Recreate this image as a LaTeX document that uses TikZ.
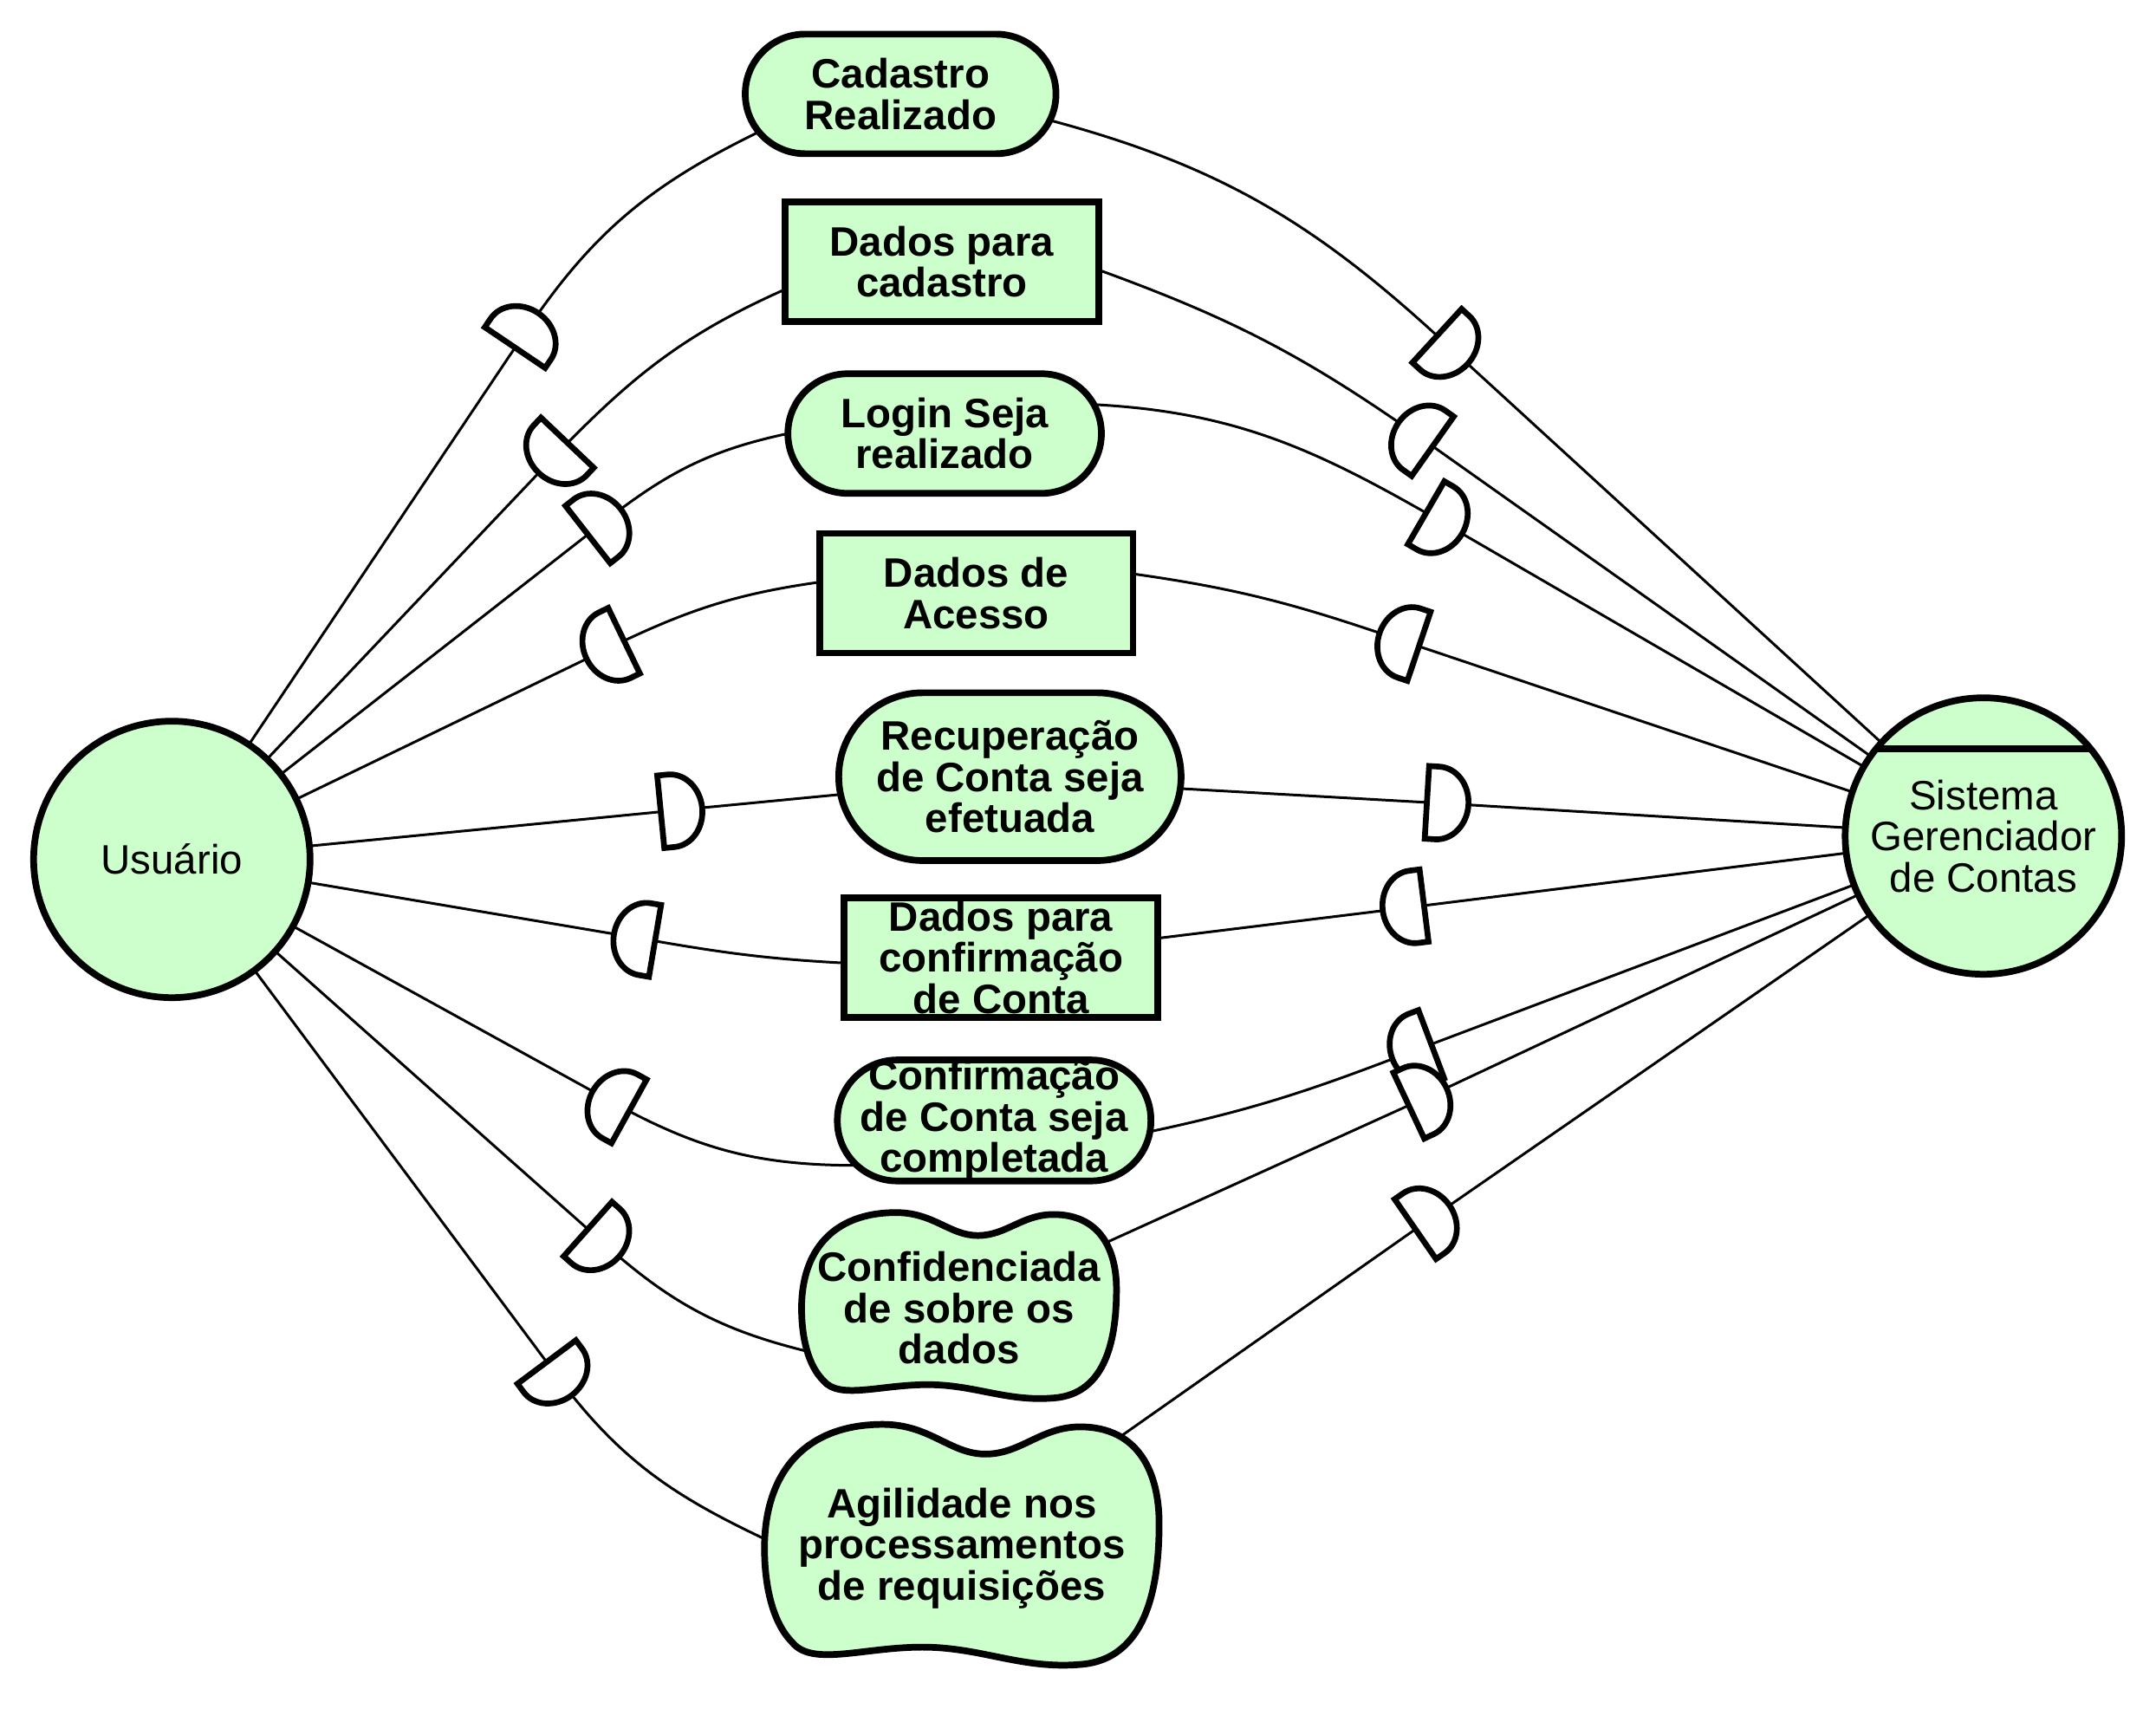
\documentclass[tikz,border=0pt]{standalone}
\usepackage{fontspec}
\setmainfont{Liberation Sans}
\usetikzlibrary{shapes.misc}
\pgfdeclarelayer{edges}
\pgfsetlayers{edges,main}
\definecolor{istarfill}{HTML}{CCFFCC}
\newcommand{\labelfont}{\fontsize{13.5}{13.5}\selectfont}
\tikzset{
  actor/.style={circle, draw=black, fill=istarfill, line width=2.2pt, minimum size=3.19cm, inner sep=0pt, outer sep=0pt, font=\labelfont, align=center},
  goal/.style={rounded rectangle, draw=black, fill=istarfill, line width=2.2pt, inner sep=0pt, outer sep=0pt, font=\labelfont\bfseries, align=center},
  goalrect/.style={rectangle, rounded corners=0.69cm, draw=black, fill=istarfill, line width=2.2pt, inner sep=0pt, outer sep=0pt, font=\labelfont\bfseries, align=center},
  resource/.style={rectangle, draw=black, fill=istarfill, line width=2.2pt, inner sep=0pt, outer sep=0pt, font=\labelfont\bfseries, align=center},
  sgshape/.style={draw=black, fill=istarfill, line width=2.2pt},
  sgtext/.style={inner sep=0pt, outer sep=0pt, font=\labelfont\bfseries, align=center},
  link/.style={line width=0.85pt, draw=black},
  dmark/.style={draw=black, fill=white, line width=1.9pt},
  dfwd/.pic={\draw[dmark] (-0.24,-0.42) -- (-0.24,0.42) -- (-0.12,0.42) arc[start angle=90, end angle=-90, x radius=0.36, y radius=0.42] -- cycle;},
  dback/.pic={\draw[dmark] (0.24,-0.42) -- (0.24,0.42) -- (0.12,0.42) arc[start angle=90, end angle=270, x radius=0.36, y radius=0.42] -- cycle;},
}
% softgoal: name, position, width, height, text
\newcommand{\softgoal}[5]{%
  \draw[sgshape, shift={#2}, xscale=#3, yscale=#4] (-0.5,0)
    .. controls (-0.5,0.3) and (-0.4,0.5) .. (-0.2,0.5)
    .. controls (-0.08,0.5) and (-0.03,0.38) .. (0.06,0.38)
    .. controls (0.15,0.38) and (0.2,0.49) .. (0.3,0.49)
    .. controls (0.45,0.49) and (0.5,0.3) .. (0.5,0.1)
    .. controls (0.5,-0.15) and (0.47,-0.45) .. (0.3,-0.47)
    .. controls (0.15,-0.49) and (0.05,-0.4) .. (-0.1,-0.4)
    .. controls (-0.25,-0.4) and (-0.38,-0.48) .. (-0.43,-0.38)
    .. controls (-0.48,-0.3) and (-0.5,-0.15) .. (-0.5,0) -- cycle;
  \node[sgtext, minimum width=#3cm, minimum height=#4cm] (#1) at #2 {#5};}

\begin{document}
\begin{tikzpicture}
\useasboundingbox (0,0) rectangle (24.88,19.72);
% actors
\node[actor] (usr) at (1.983,9.803) {Usuário};
\node[actor] (sgc) at (22.888,10.073) {Sistema\\Gerenciador\\de Contas};
\draw[line width=2.2pt] (sgc.141) -- (sgc.39);
% dependums
\node[goal, minimum width=3.586cm, minimum height=1.380cm] (cad) at (10.393,18.636) {Cadastro\\Realizado};
\node[resource, minimum width=3.618cm, minimum height=1.380cm] (dpc) at (10.869,16.700) {Dados para\\cadastro};
\node[goal, minimum width=3.618cm, minimum height=1.380cm] (login) at (10.901,14.717) {Login Seja\\realizado};
\node[resource, minimum width=3.618cm, minimum height=1.380cm] (dac) at (11.266,12.876) {Dados de\\Acesso};
\node[goal, minimum width=3.951cm, minimum height=1.936cm] (recup) at (11.654,10.758) {Recuperação\\de Conta seja\\efetuada};
\node[resource, minimum width=3.618cm, minimum height=1.380cm] (dconf) at (11.551,8.671) {Dados para\\confirmação\\de Conta};
\node[goalrect, minimum width=3.618cm, minimum height=1.396cm] (conf) at (11.472,6.791) {Confirmação\\de Conta seja\\completada};
\softgoal{sigilo}{(11.067,4.625)}{3.634}{2.206}{Confidenciada\\de sobre os\\dados}
\softgoal{agil}{(11.099,1.856)}{4.554}{2.856}{Agilidade nos\\processamentos\\de requisições}
% dependency marks
\coordinate (dl1) at (6.077,15.908);
\coordinate (dl2) at (6.382,14.437);
\coordinate (dl3) at (6.973,13.700);
\coordinate (dl4) at (6.985,12.222);
\coordinate (dl5) at (7.864,10.376);
\coordinate (dl6) at (7.322,8.903);
\coordinate (dl7) at (7.049,7.012);
\coordinate (dl8) at (6.963,5.378);
\coordinate (dl9) at (6.452,3.811);
\coordinate (dr1) at (16.760,15.683);
\coordinate (dr2) at (16.337,14.709);
\coordinate (dr3) at (16.665,13.682);
\coordinate (dr4) at (16.147,12.338);
\coordinate (dr5) at (16.706,10.447);
\coordinate (dr6) at (16.195,9.241);
\coordinate (dr7) at (16.292,7.586);
\coordinate (dr8) at (16.475,7.064);
\coordinate (dr9) at (16.530,5.674);
\begin{pgfonlayer}{edges}
\draw[link] (usr) -- (dl1) to[out=56, in=206] (cad.195);
\draw[link] (usr) -- (dl2) to[out=46, in=204] (dpc.190);
\draw[link] (usr) -- (dl3) to[out=38, in=192] (login.west);
\draw[link] (usr) -- (dl4) to[out=26, in=188] (dac.176);
\draw[link] (usr) -- (dl5) -- (recup.186);
\draw[link] (usr) -- (dl6) to[out=-10, in=177] (dconf.182);
\draw[link] (usr) -- (dl7) to[out=-29, in=180] ([xshift=0.24cm]conf.196);
\draw[link] (usr) -- (dl8) to[out=-42, in=167] ([shift={(0.2,-0.53)}]sigilo.west);
\draw[link] (usr) -- (dl9) to[out=-53, in=155] ([shift={(0.1,0.06)}]agil.west);
\draw[link] (cad.350) to[out=-15, in=137] (dr1) -- (sgc);
\draw[link] (dpc.357) to[out=-20, in=145] (dr2) -- (sgc);
\draw[link] (login.11) to[out=-3, in=150] (dr3) -- (sgc);
\draw[link] (dac.7) to[out=-8, in=161] (dr4) -- (sgc);
\draw[link] (recup.356) -- (dr5) -- (sgc);
\draw[link] (dconf.7) -- (dr6) -- (sgc);
\draw[link] (conf.356) to[out=12, in=201] (dr7) -- (sgc);
\draw[link] ([shift={(-0.2,0.72)}]sigilo.east) -- (dr8) -- (sgc);
\draw[link] ([shift={(-0.5,1.25)}]agil.east) -- (dr9) -- (sgc);
\end{pgfonlayer}
\pic[rotate=56] at (dl1) {dfwd};
\pic[rotate=46.5] at (dl2) {dback};
\pic[rotate=38] at (dl3) {dfwd};
\pic[rotate=25.8] at (dl4) {dback};
\pic[rotate=5.6] at (dl5) {dfwd};
\pic[rotate=-9.6] at (dl6) {dback};
\pic[rotate=-28.9] at (dl7) {dback};
\pic[rotate=-41.6] at (dl8) {dfwd};
\pic[rotate=-53.3] at (dl9) {dfwd};
\pic[rotate=-42.5] at (dr1) {dfwd};
\pic[rotate=-35.3] at (dr2) {dback};
\pic[rotate=-30.1] at (dr3) {dfwd};
\pic[rotate=-18.6] at (dr4) {dback};
\pic[rotate=-3.5] at (dr5) {dfwd};
\pic[rotate=7.1] at (dr6) {dback};
\pic[rotate=20.7] at (dr7) {dback};
\pic[rotate=25.1] at (dr8) {dfwd};
\pic[rotate=34.7] at (dr9) {dfwd};
\end{tikzpicture}
\end{document}
